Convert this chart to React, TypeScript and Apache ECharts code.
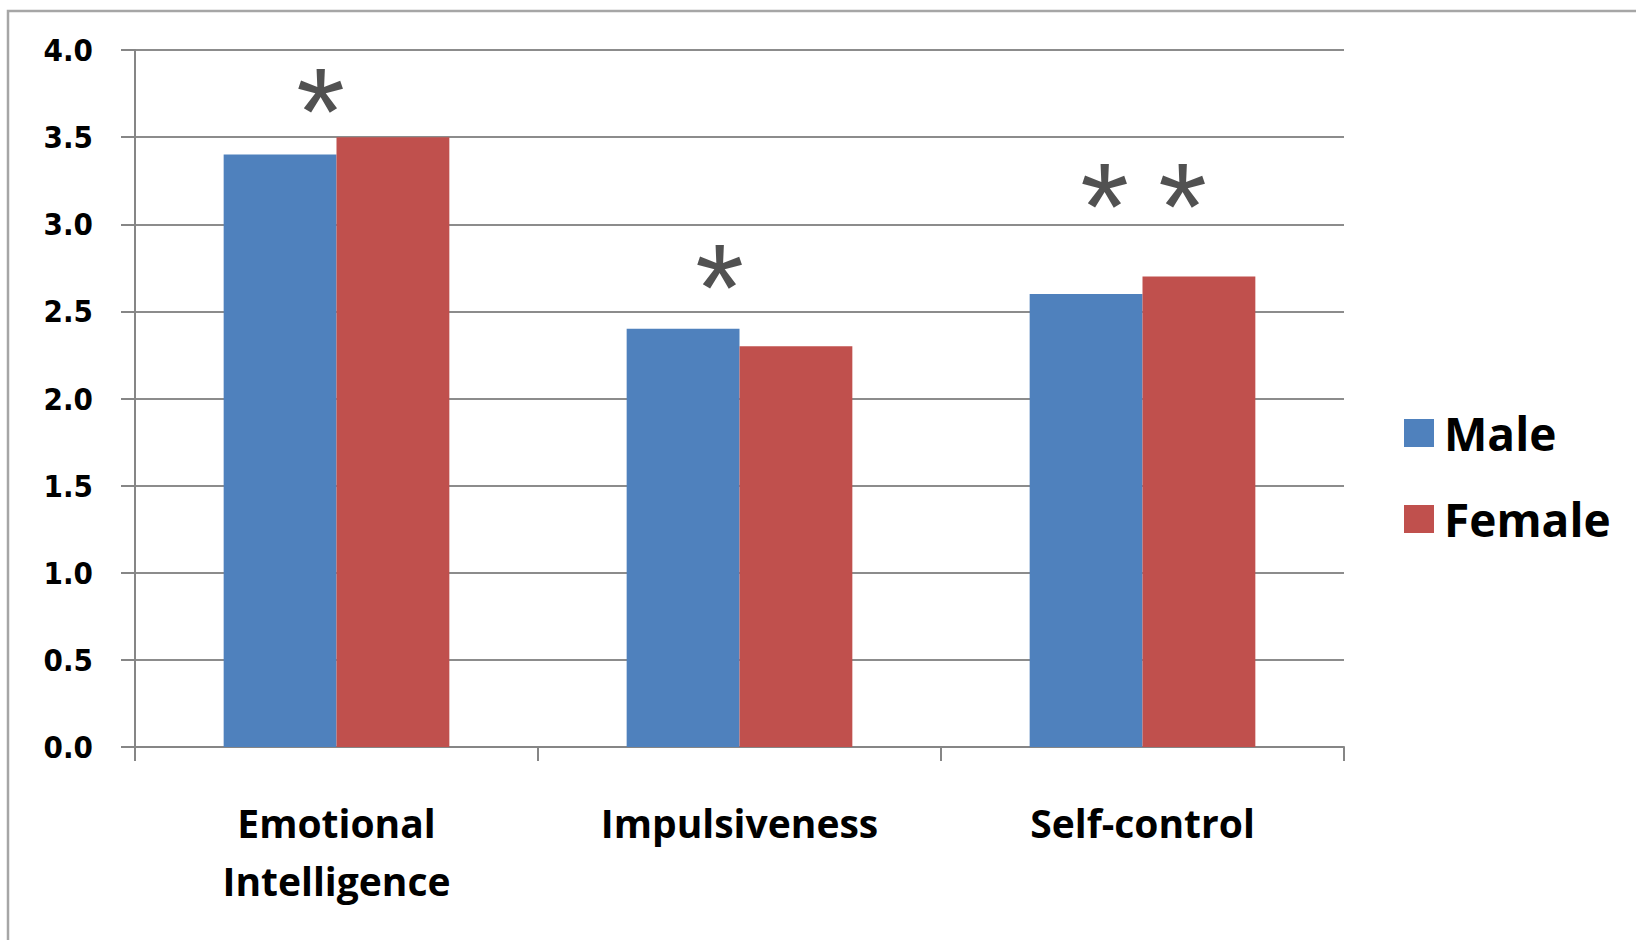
import React, { useEffect, useRef } from "react";
import * as echarts from "echarts";

const categories = ["Emotional\nIntelligence", "Impulsiveness", "Self-control"];
const maleValues = [3.4, 2.4, 2.6];
const femaleValues = [3.5, 2.3, 2.7];
const seriesNames = ["Male", "Female"];
const yTicks = { min: 0, max: 4, interval: 0.5 };

// significance marks: category index, height of the mark's centre (axis units)
const markCategory = [0, 1, 2, 2];
const markHeight = [3.77, 2.76, 3.22, 3.22];
const markText = ["*", "*", "*", "*"];
const markShift = [-16, -20, -38, 40];

export default function App() {
  const ref = useRef<HTMLDivElement>(null);
  useEffect(() => {
    document.body.style.margin = "0";
    if (!ref.current) return;
    const chart = echarts.init(ref.current, undefined, { renderer: "svg" });
    const axisGray = "#868686";
    chart.setOption({
      animation: false,
      backgroundColor: "#ffffff",
      graphic: [
        {
          type: "rect",
          shape: { x: 8, y: 11, width: 1700, height: 1000 },
          style: { fill: "none", stroke: "#a6a6a6", lineWidth: 2.5 },
          silent: true,
        },
      ],
      grid: { left: 135, right: 292, top: 50, bottom: 193 },
      legend: {
        data: seriesNames,
        orient: "vertical",
        left: 1399,
        top: 405,
        itemWidth: 30,
        itemHeight: 28,
        itemGap: 40,
        icon: "rect",
        textStyle: {
          fontFamily: "Open Sans",
          fontWeight: "bold",
          fontSize: 46,
          lineHeight: 28,
          color: "#000",
          padding: [0, 0, 0, 5],
        },
      },
      xAxis: {
        type: "category",
        data: categories,
        axisLine: { show: true, lineStyle: { color: axisGray, width: 2 } },
        axisTick: { show: true, length: 14, lineStyle: { color: axisGray, width: 2 } },
        axisLabel: {
          margin: 46,
          fontFamily: "Open Sans",
          fontWeight: "bold",
          fontSize: 39,
          lineHeight: 58,
          color: "#000",
        },
      },
      yAxis: {
        type: "value",
        min: yTicks.min,
        max: yTicks.max,
        interval: yTicks.interval,
        axisLine: { show: true, lineStyle: { color: axisGray, width: 2 } },
        axisTick: { show: true, length: 14, lineStyle: { color: axisGray, width: 2 } },
        splitLine: { show: true, lineStyle: { color: "#8c8c8c", width: 2 } },
        axisLabel: {
          margin: 42,
          fontFamily: "DejaVu Sans Condensed, DejaVu Sans",
          fontWeight: "bold",
          fontSize: 31,
          color: "#000",
          formatter: (v: number) => v.toFixed(1),
        },
      },
      series: [
        {
          name: seriesNames[0],
          type: "bar",
          data: maleValues,
          barGap: "0%",
          barCategoryGap: "44%",
          itemStyle: { color: "#4F81BD" },
        },
        {
          name: seriesNames[1],
          type: "bar",
          data: femaleValues,
          barGap: "0%",
          barCategoryGap: "44%",
          itemStyle: { color: "#C0504D" },
        },
        {
          name: "marks",
          type: "scatter",
          symbolSize: 0,
          silent: true,
          data: markCategory.map((c, i) => ({
            value: [c, markHeight[i]],
            label: {
              show: true,
              position: "inside",
              formatter: markText[i],
              offset: [markShift[i], 21],
              fontFamily: "Liberation Sans",
              fontSize: 125,
              color: "#262626",
            },
          })),
        },
      ],
    });
    return () => chart.dispose();
  }, []);
  return <div ref={ref} style={{ width: 1636, height: 940 }} />;
}
